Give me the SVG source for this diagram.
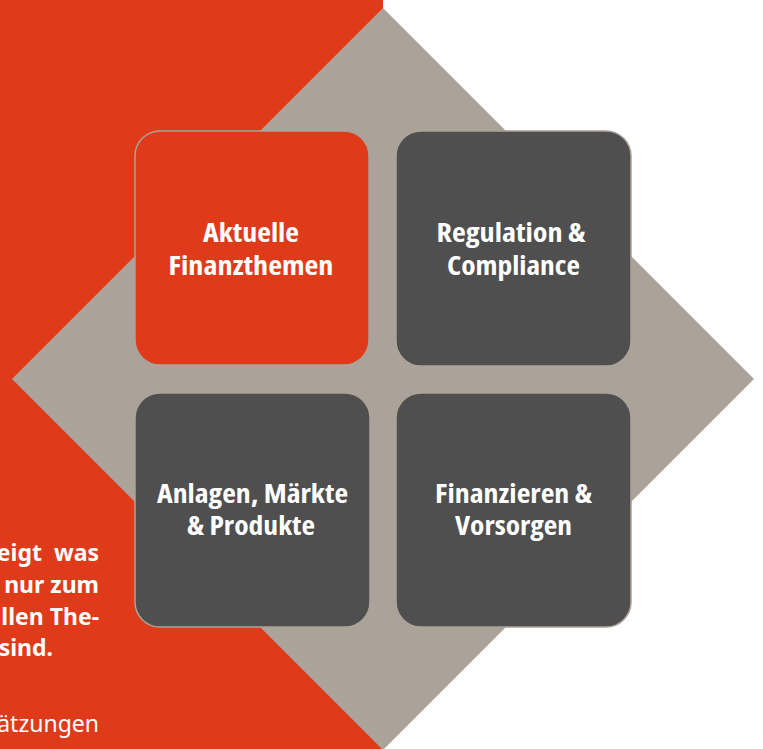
<svg xmlns="http://www.w3.org/2000/svg" width="763" height="749" viewBox="0 0 763 749">
<style>
.card{stroke:#aba399;stroke-width:1.5}
.red{fill:#df3a19}
.dark{fill:#4f4f4f}
.lbl{font-family:"Open Sans","Noto Sans","Liberation Sans",sans-serif;font-weight:700;font-size:26px;fill:#ffffff;text-anchor:middle;font-stretch:condensed}
.side{font-family:"Noto Sans","Open Sans","Liberation Sans",sans-serif;font-size:23px;fill:#ffffff;text-anchor:end}
.b{font-weight:700}
</style>
<rect id="background" x="0" y="0" width="763" height="749" fill="#ffffff"/>
<rect id="red-panel" x="0" y="0" width="383" height="749" class="red"/>
<polygon id="diamond" points="383,8 754,379 383,750 12,379" fill="#aba399"/>
<g id="side-text">
<text class="side b" x="42" y="561">eigt</text>
<text class="side b" x="99" y="561">was</text>
<text class="side b" x="99" y="593">nur zum</text>
<text class="side b" x="99" y="625">llen The-</text>
<text class="side b" x="53" y="656">sind.</text>
<text class="side" x="99" y="732">ätzungen</text>
</g>
<g id="connectors"/>
<g id="node-aktuelle">
<rect class="card red" x="135" y="131" width="234" height="234" rx="25"/>
<text class="lbl" x="251" y="242" textLength="96" lengthAdjust="spacingAndGlyphs">Aktuelle</text>
<text class="lbl" x="251" y="275" textLength="165" lengthAdjust="spacingAndGlyphs">Finanzthemen</text>
</g>
<g id="node-regulation">
<rect class="card dark" x="396" y="131" width="235" height="235" rx="25"/>
<text class="lbl" x="511" y="242" textLength="149" lengthAdjust="spacingAndGlyphs">Regulation &amp;</text>
<text class="lbl" x="513.5" y="275" textLength="133" lengthAdjust="spacingAndGlyphs">Compliance</text>
</g>
<g id="node-anlagen">
<rect class="card dark" x="135" y="393" width="235" height="234" rx="25"/>
<text class="lbl" x="252.5" y="503" textLength="191" lengthAdjust="spacingAndGlyphs">Anlagen, Märkte</text>
<text class="lbl" x="251" y="535" textLength="128" lengthAdjust="spacingAndGlyphs">&amp; Produkte</text>
</g>
<g id="node-finanzieren">
<rect class="card dark" x="396" y="393" width="235" height="234" rx="25"/>
<text class="lbl" x="513.5" y="503" textLength="157" lengthAdjust="spacingAndGlyphs">Finanzieren &amp;</text>
<text class="lbl" x="513.5" y="535" textLength="117" lengthAdjust="spacingAndGlyphs">Vorsorgen</text>
</g>
</svg>
